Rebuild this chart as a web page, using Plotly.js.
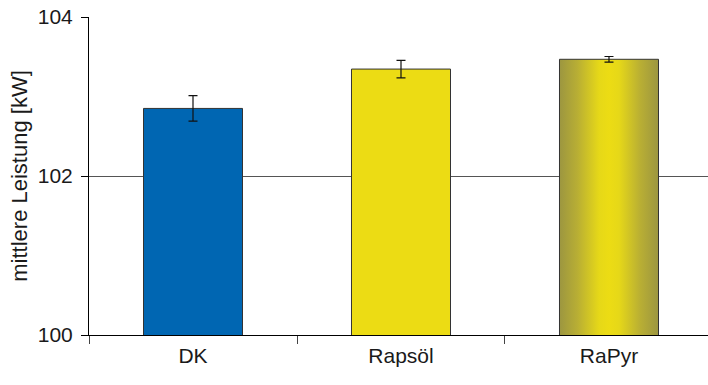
<!DOCTYPE html>
<html>
<head>
<meta charset="utf-8">
<script src="https://cdn.plot.ly/plotly-3.0.1.min.js"></script>
<style>
  html, body { margin: 0; padding: 0; background: #fff; }
  #chart { width: 708px; height: 385px; }
</style>
</head>
<body>
<div id="chart"></div>
<script>
const categories = ["DK", "Rapsöl", "RaPyr"];
const meanPower = [102.85, 103.345, 103.468];
const errorPower = [0.16, 0.11, 0.035];
const yTicks = [100, 102, 104];

const barColors = ["#0066b2", "#ecdc14", "#ecdc14"];

const trace = {
  type: "bar",
  x: categories,
  y: meanPower,
  width: 0.476,
  marker: {
    color: barColors,
    line: { color: "#333333", width: 1 }
  },
  error_y: {
    type: "data",
    array: errorPower,
    visible: true,
    color: "#111111",
    thickness: 1.2,
    width: 4.5
  },
  hoverinfo: "none"
};

const font = { family: "Liberation Sans, Arial, Helvetica, sans-serif", color: "#1a1a1a" };

const layout = {
  width: 708,
  height: 385,
  margin: { l: 89, r: 0, t: 17, b: 50, pad: 0 },
  paper_bgcolor: "#ffffff",
  plot_bgcolor: "#ffffff",
  showlegend: false,
  font: Object.assign({ size: 21 }, font),
  xaxis: {
    type: "category",
    range: [-0.5, 2.476],
    showline: true,
    linecolor: "#000000",
    linewidth: 1,
    ticks: "outside",
    tickson: "boundaries",
    ticklen: 8,
    tickcolor: "#444444",
    tickwidth: 1,
    showgrid: false,
    tickfont: Object.assign({ size: 21 }, font),
    ticklabelstandoff: 2
  },
  yaxis: {
    range: [100, 104],
    tickvals: yTicks,
    ticktext: yTicks.map(String),
    showline: true,
    linecolor: "#000000",
    linewidth: 1,
    ticks: "outside",
    ticklen: 7,
    tickcolor: "#000000",
    tickwidth: 1,
    showgrid: true,
    gridcolor: "#555555",
    gridwidth: 1,
    zeroline: false,
    tickfont: Object.assign({ size: 21 }, font),
    ticklabelstandoff: 4,
    title: {
      text: "mittlere Leistung [kW]",
      font: Object.assign({ size: 22 }, font),
      standoff: 4
    }
  }
};

Plotly.newPlot("chart", [trace], layout, { displayModeBar: false, staticPlot: true }).then(function (gd) {
  // Horizontal olive-yellow-olive gradient fill for the third bar (RaPyr)
  const svg = gd.querySelector("svg.main-svg");
  const ns = "http://www.w3.org/2000/svg";
  let defs = svg.querySelector("defs");
  if (!defs) { defs = document.createElementNS(ns, "defs"); svg.insertBefore(defs, svg.firstChild); }
  const grad = document.createElementNS(ns, "linearGradient");
  grad.setAttribute("id", "rapyrGrad");
  grad.setAttribute("x1", "0"); grad.setAttribute("y1", "0");
  grad.setAttribute("x2", "1"); grad.setAttribute("y2", "0");
  const stops = [[0, "#9c9640"], [0.18, "#b8ae34"], [0.4, "#e6d818"], [0.5, "#ecdc14"], [0.6, "#e6d818"], [0.82, "#b8ae34"], [1, "#9c9640"]];
  stops.forEach(function (s) {
    const st = document.createElementNS(ns, "stop");
    st.setAttribute("offset", s[0]);
    st.setAttribute("stop-color", s[1]);
    grad.appendChild(st);
  });
  defs.appendChild(grad);
  const paths = gd.querySelectorAll(".barlayer .point path");
  if (paths.length >= 3) {
    paths[2].style.fill = "url(#rapyrGrad)";
  }
});
</script>
</body>
</html>
